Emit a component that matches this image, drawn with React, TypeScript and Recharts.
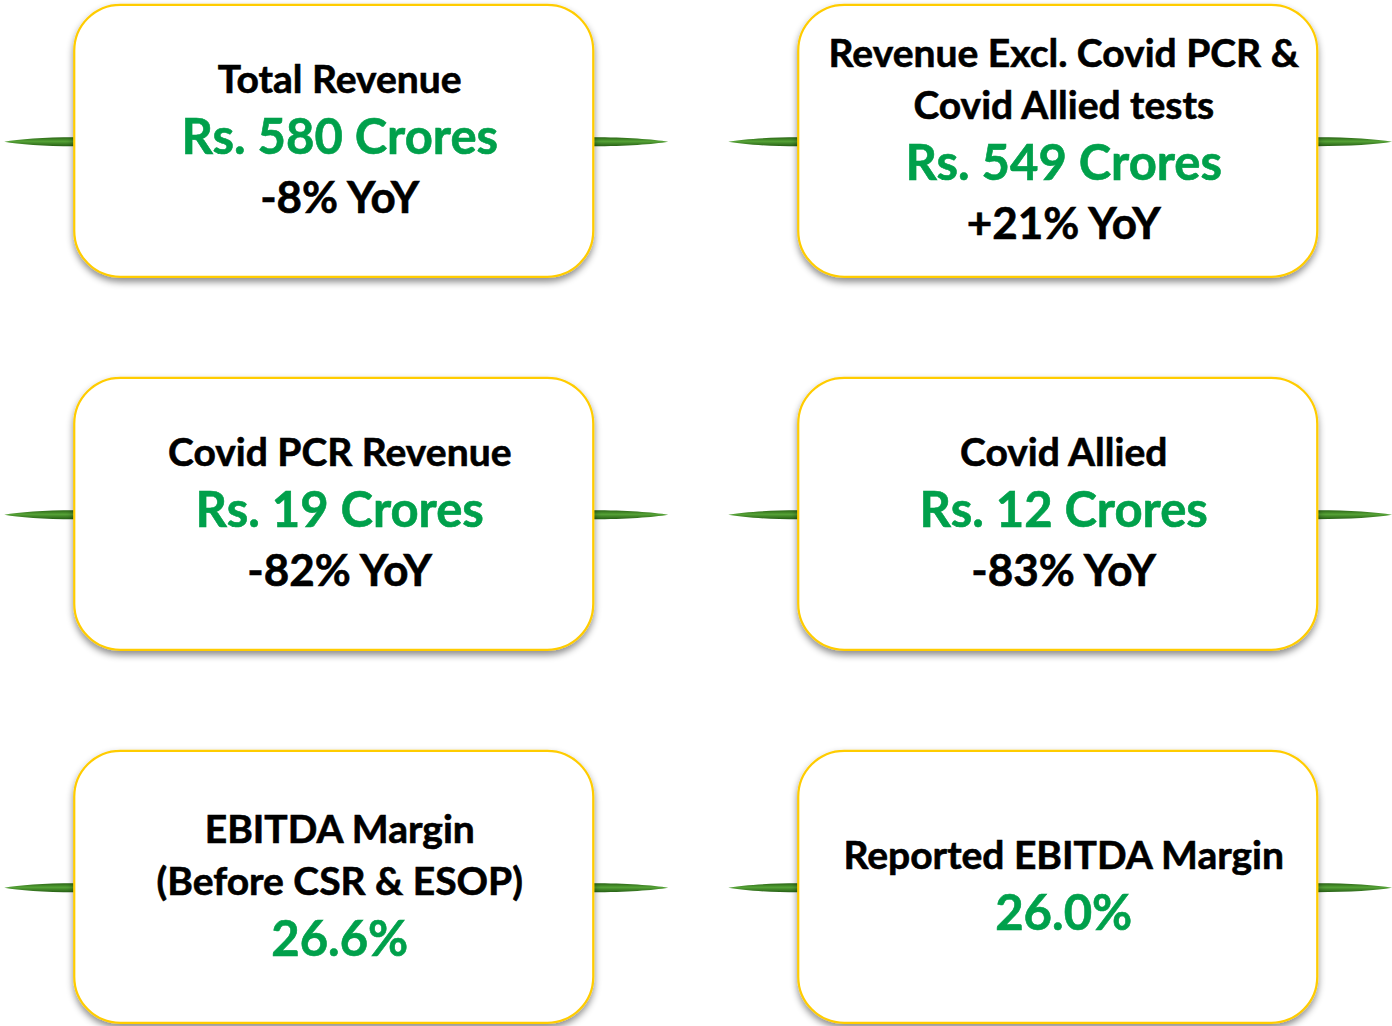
import React from "react";
import { ScatterChart, Scatter, XAxis, YAxis } from "recharts";

// ---- data ----
const metricTitles: string[][] = [
  ["Total Revenue"],
  ["Revenue Excl. Covid PCR &", "Covid Allied tests"],
  ["Covid PCR Revenue"],
  ["Covid Allied"],
  ["EBITDA Margin", "(Before CSR & ESOP)"],
  ["Reported EBITDA Margin"],
];
const metricValues: string[] = [
  "Rs. 580 Crores",
  "Rs. 549 Crores",
  "Rs. 19 Crores",
  "Rs. 12 Crores",
  "26.6%",
  "26.0%",
];
const yoyChanges: (string | null)[] = ["-8% YoY", "+21% YoY", "-82% YoY", "-83% YoY", null, null];
const gridCol: number[] = [0, 1, 0, 1, 0, 1];
const gridRow: number[] = [0, 0, 1, 1, 2, 2];

const cards = metricTitles.map((t, i) => ({
  col: gridCol[i],
  row: gridRow[i],
  titles: t,
  value: metricValues[i],
  yoy: yoyChanges[i],
}));

// ---- styling ----
const W = 1392;
const H = 1026;
const CARD_W = 519;
const CARD_H = 272;
const RADIUS = 46;
const GREEN = "#00A04B";
const YELLOW = "#FFCC00";
const FONT = "Lato, 'Open Sans', sans-serif";
const SIZE = { title: 39, value: 49, yoy: 44 };
const GAP = { tt: 52, tv: 61, vy: 59 };

function Spindle({ x0, x1, y, id }: { x0: number; x1: number; y: number; id: string }) {
  const d = x1 - x0;
  const h = 4.5;
  const path = `M ${x0} ${y - h} C ${x0 + d * 0.45} ${y - h} ${x0 + d * 0.8} ${y - 2.5} ${x1} ${y} C ${x0 + d * 0.8} ${y + 2.5} ${x0 + d * 0.45} ${y + h} ${x0} ${y + h} Z`;
  return <path d={path} fill={`url(#${id})`} />;
}

function Card(props: any) {
  const { cx, cy, payload, index } = props;
  if (cx == null || cy == null || !payload) return null;
  const left = cx - CARD_W / 2;
  const right = cx + CARD_W / 2;
  const top = cy - CARD_H / 2;
  const key = index ?? `${payload.col}-${payload.row}`;
  const gid = `spg-${key}`;
  const fid = `shd-${key}`;

  const lines: { text: string; kind: "title" | "value" | "yoy" }[] = [];
  payload.titles.forEach((t: string) => lines.push({ text: t, kind: "title" }));
  lines.push({ text: payload.value, kind: "value" });
  if (payload.yoy) lines.push({ text: payload.yoy, kind: "yoy" });

  const offs: number[] = [0];
  for (let i = 1; i < lines.length; i++) {
    const a = lines[i - 1].kind;
    const b = lines[i].kind;
    const g = a === "title" && b === "title" ? GAP.tt : a === "title" ? GAP.tv : GAP.vy;
    offs.push(offs[i - 1] + g);
  }
  const span = offs[offs.length - 1];
  const mid = cy + 12.5;
  const first = mid - span / 2;
  const tx = cx + 6;

  return (
    <g>
      <defs>
        <linearGradient id={gid} x1="0" y1="0" x2="0" y2="1">
          <stop offset="0%" stopColor="#2a6615" />
          <stop offset="45%" stopColor="#55a236" />
          <stop offset="100%" stopColor="#255e14" />
        </linearGradient>
        <filter id={fid} x="-10%" y="-10%" width="120%" height="130%">
          <feDropShadow dx="0" dy="4" stdDeviation="3.5" floodColor="#000" floodOpacity="0.45" />
        </filter>
      </defs>
      <Spindle x0={left + 1} x1={left - 70} y={cy + 1} id={gid} />
      <Spindle x0={right - 1} x1={right + 75} y={cy + 1} id={gid} />
      <rect
        x={left}
        y={top}
        width={CARD_W}
        height={CARD_H}
        rx={RADIUS}
        ry={RADIUS}
        fill="#ffffff"
        stroke={YELLOW}
        strokeWidth={2.2}
        filter={`url(#${fid})`}
      />
      {lines.map((l, i) => {
        const c = l.kind === "value" ? GREEN : "#000000";
        return (
          <text
            key={i}
            x={tx}
            y={first + offs[i]}
            textAnchor="middle"
            fontFamily={FONT}
            fontWeight={700}
            fontSize={SIZE[l.kind]}
            fill={c}
            stroke={c}
            strokeWidth={0.6}
          >
            {l.text}
          </text>
        );
      })}
    </g>
  );
}

export default function App() {
  return (
    <div style={{ position: "absolute", left: 0, top: 0, width: W, height: H, background: "#fff" }}>
      <ScatterChart width={W} height={H} margin={{ top: 0, right: 0, bottom: 0, left: 0 }}>
        <XAxis type="number" dataKey="col" domain={[-0.461, 1.4617]} hide />
        <YAxis type="number" dataKey="row" domain={[-0.3775, 2.3732]} reversed hide width={0} />
        <Scatter data={cards} isAnimationActive={false} shape={(p: any) => <Card {...p} />} />
      </ScatterChart>
    </div>
  );
}
